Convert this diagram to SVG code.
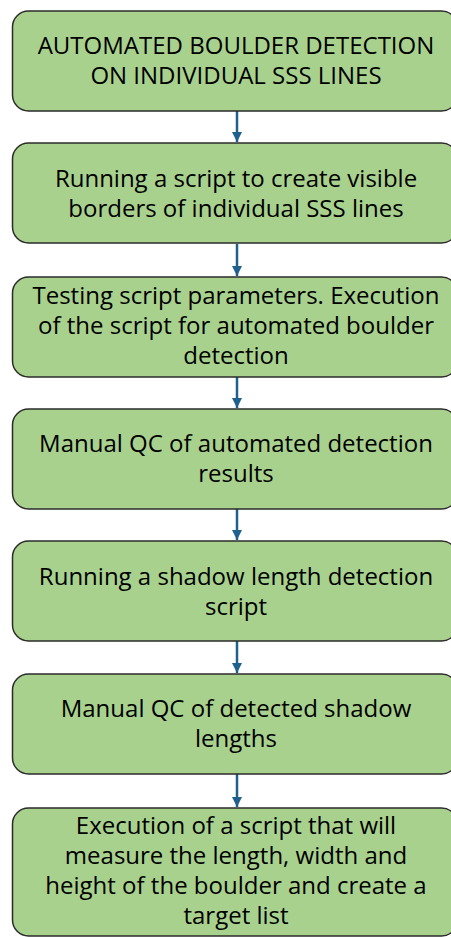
<svg xmlns="http://www.w3.org/2000/svg" width="451" height="937" viewBox="0 0 451 937">
  <defs>
    <style>
      .box { fill: #A9D18E; stroke: #2b2b2b; stroke-width: 1.5; }
      .lbl { font-family: "Open Sans", "Liberation Sans", sans-serif; font-size: 24px; fill: #000; text-anchor: middle; }
      .conn { stroke: #1F618D; stroke-width: 2.5; fill: none; }
    </style>
    <marker id="ah" viewBox="0 0 10 10" refX="10" refY="5" markerWidth="4" markerHeight="4" orient="auto" markerUnits="strokeWidth">
      <path d="M0,0 L10,5 L0,10 Z" fill="#1F618D"/>
    </marker>
  </defs>
  <rect width="451" height="937" fill="#ffffff"/>
  <g id="connectors">
    <line class="conn" x1="237" y1="111" x2="237" y2="142" marker-end="url(#ah)"/>
    <line class="conn" x1="237" y1="244" x2="237" y2="276" marker-end="url(#ah)"/>
    <line class="conn" x1="237" y1="377" x2="237" y2="408" marker-end="url(#ah)"/>
    <line class="conn" x1="237" y1="509" x2="237" y2="540" marker-end="url(#ah)"/>
    <line class="conn" x1="237" y1="641" x2="237" y2="673" marker-end="url(#ah)"/>
    <line class="conn" x1="237" y1="774" x2="237" y2="807" marker-end="url(#ah)"/>
  </g>
  <g id="n1">
    <rect class="box" x="12.5" y="11" width="445" height="100" rx="16"/>
    <text class="lbl" x="236" y="54">AUTOMATED BOULDER DETECTION</text>
    <text class="lbl" x="236" y="84">ON INDIVIDUAL SSS LINES</text>
  </g>
  <g id="n2">
    <rect class="box" x="12.5" y="143" width="445" height="100" rx="16"/>
    <text class="lbl" x="236" y="187">Running a script to create visible</text>
    <text class="lbl" x="236" y="217">borders of individual SSS lines</text>
  </g>
  <g id="n3">
    <rect class="box" x="12.5" y="277" width="445" height="100" rx="16"/>
    <text class="lbl" x="236" y="304">Testing script parameters. Execution</text>
    <text class="lbl" x="236" y="334">of the script for automated boulder</text>
    <text class="lbl" x="236" y="364">detection</text>
  </g>
  <g id="n4">
    <rect class="box" x="12.5" y="409" width="445" height="100" rx="16"/>
    <text class="lbl" x="236" y="452">Manual QC of automated detection</text>
    <text class="lbl" x="236" y="482">results</text>
  </g>
  <g id="n5">
    <rect class="box" x="12.5" y="541" width="445" height="100" rx="16"/>
    <text class="lbl" x="236" y="585">Running a shadow length detection</text>
    <text class="lbl" x="236" y="615">script</text>
  </g>
  <g id="n6">
    <rect class="box" x="12.5" y="674" width="445" height="100" rx="16"/>
    <text class="lbl" x="236" y="717">Manual QC of detected shadow</text>
    <text class="lbl" x="236" y="747">lengths</text>
  </g>
  <g id="n7">
    <rect class="box" x="12.5" y="808" width="445" height="128" rx="16"/>
    <text class="lbl" x="236" y="834">Execution of a script that will</text>
    <text class="lbl" x="236" y="864">measure the length, width and</text>
    <text class="lbl" x="236" y="894">height of the boulder and create a</text>
    <text class="lbl" x="236" y="924">target list</text>
  </g>
</svg>
